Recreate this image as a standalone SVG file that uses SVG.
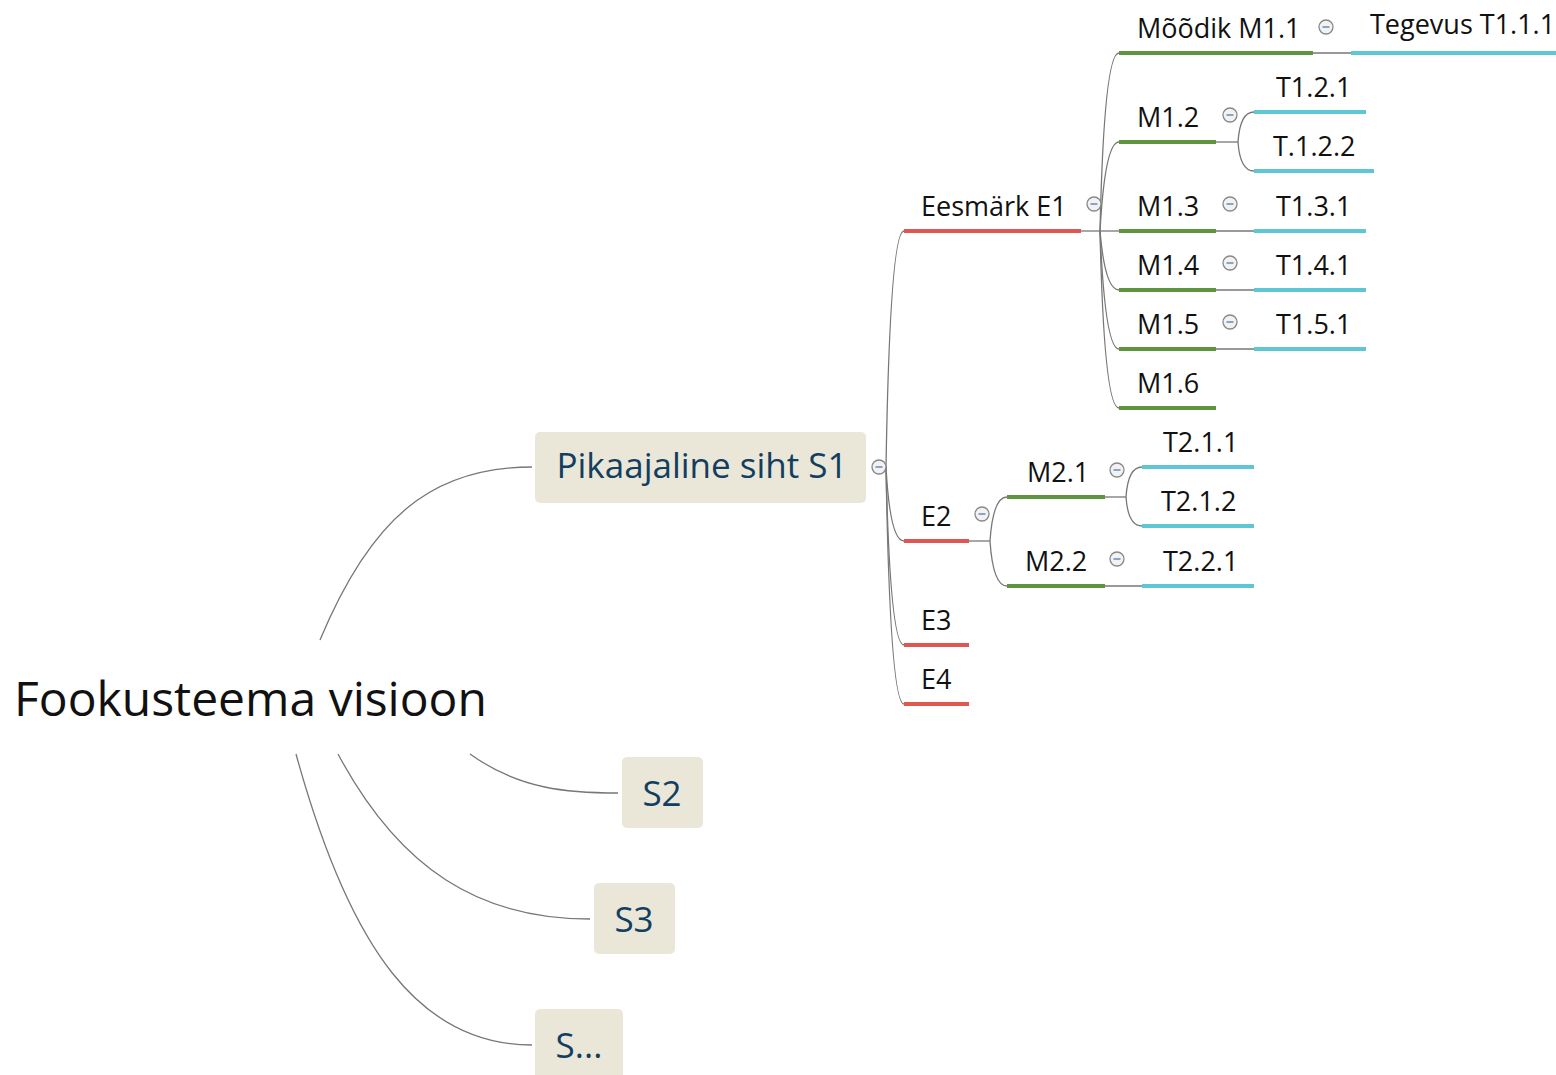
<svg xmlns="http://www.w3.org/2000/svg" width="1556" height="1075" viewBox="0 0 1556 1075">
<style>
text{font-family:"Open Sans","Noto Sans","Liberation Sans",sans-serif;fill:#111}
.root{font-size:48px}
.sbox{fill:#EAE6D8}
.st{font-size:35px;fill:#123e5f}
.lbl{font-size:27px}
.e{stroke:#E05752;stroke-width:4}
.m{stroke:#5E953E;stroke-width:4}
.t{stroke:#5DC7D6;stroke-width:4}
.c path,.c line{fill:none;stroke:#777;stroke-width:1.3}
</style>
<defs>
<g id="minus"><circle r="7" fill="#f2f2f2" stroke="#888" stroke-width="1.3"/><line x1="-3.5" y1="0" x2="3.5" y2="0" stroke="#5577aa" stroke-width="1.3"/></g>
</defs>
<g class="c" id="connectors">
<path d="M320,640 C370,520 430,467 532,467"/>
<path d="M470,754 C520,790 570,793 618,793"/>
<path d="M338,754 C400,870 480,919 590,919"/>
<path d="M296,754 C350,950 420,1045 532,1045"/>
<path d="M886,467 Q890,231 904,231"/>
<path d="M886,467 Q890,541 904,541"/>
<path d="M886,467 Q890,645 904,645"/>
<path d="M886,467 Q890,704 904,704"/>
<line x1="1081" y1="231" x2="1100" y2="231"/>
<path d="M1100,231 Q1104,53 1119,53"/>
<path d="M1100,231 Q1105,142 1119,142"/>
<line x1="1100" y1="231" x2="1119" y2="231"/>
<path d="M1100,231 Q1105,290 1119,290"/>
<path d="M1100,231 Q1105,349 1119,349"/>
<path d="M1100,231 Q1104,408 1119,408"/>
<line x1="1313" y1="53" x2="1351" y2="53"/>
<line x1="1216" y1="142" x2="1238" y2="142"/>
<path d="M1238,142 Q1240,112 1254,112"/>
<path d="M1238,142 Q1240,171 1254,171"/>
<line x1="1216" y1="231" x2="1254" y2="231"/>
<line x1="1216" y1="290" x2="1254" y2="290"/>
<line x1="1216" y1="349" x2="1254" y2="349"/>
<line x1="969" y1="541" x2="990" y2="541"/>
<path d="M990,541 Q993,497 1007,497"/>
<path d="M990,541 Q993,586 1007,586"/>
<line x1="1105" y1="497" x2="1126" y2="497"/>
<path d="M1126,497 Q1128,467 1142,467"/>
<path d="M1126,497 Q1128,526 1142,526"/>
<line x1="1105" y1="586" x2="1142" y2="586"/>
</g>
<g id="root"><text class="root" x="14" y="716">Fookusteema visioon</text></g>
<g id="s1"><rect class="sbox" x="535" y="432" width="331" height="71" rx="5"/><text class="st" x="702" y="478" text-anchor="middle">Pikaajaline siht S1</text></g>
<g id="s2"><rect class="sbox" x="622" y="757" width="81" height="71" rx="5"/><text class="st" x="662" y="806" text-anchor="middle">S2</text></g>
<g id="s3"><rect class="sbox" x="594" y="883" width="81" height="71" rx="5"/><text class="st" x="634" y="932" text-anchor="middle">S3</text></g>
<g id="s4"><rect class="sbox" x="535" y="1009" width="88" height="80" rx="5"/><text class="st" x="579" y="1058" text-anchor="middle">S...</text></g>
<g id="e1"><line class="e" x1="904" y1="231" x2="1081" y2="231"/><text class="lbl" x="921" y="216">Eesmärk E1</text></g>
<g id="e2"><line class="e" x1="904" y1="541" x2="969" y2="541"/><text class="lbl" x="921" y="526">E2</text></g>
<g id="e3"><line class="e" x1="904" y1="645" x2="969" y2="645"/><text class="lbl" x="921" y="630">E3</text></g>
<g id="e4"><line class="e" x1="904" y1="704" x2="969" y2="704"/><text class="lbl" x="921" y="689">E4</text></g>
<g id="m11"><line class="m" x1="1119" y1="53" x2="1313" y2="53"/><text class="lbl" x="1137" y="38">Mõõdik M1.1</text></g>
<g id="m12"><line class="m" x1="1119" y1="142" x2="1216" y2="142"/><text class="lbl" x="1137" y="127">M1.2</text></g>
<g id="m13"><line class="m" x1="1119" y1="231" x2="1216" y2="231"/><text class="lbl" x="1137" y="216">M1.3</text></g>
<g id="m14"><line class="m" x1="1119" y1="290" x2="1216" y2="290"/><text class="lbl" x="1137" y="275">M1.4</text></g>
<g id="m15"><line class="m" x1="1119" y1="349" x2="1216" y2="349"/><text class="lbl" x="1137" y="334">M1.5</text></g>
<g id="m16"><line class="m" x1="1119" y1="408" x2="1216" y2="408"/><text class="lbl" x="1137" y="393">M1.6</text></g>
<g id="t111"><line class="t" x1="1351" y1="53" x2="1556" y2="53"/><text class="lbl" x="1370" y="34">Tegevus T1.1.1</text></g>
<g id="t121"><line class="t" x1="1254" y1="112" x2="1366" y2="112"/><text class="lbl" x="1276" y="97">T1.2.1</text></g>
<g id="t122"><line class="t" x1="1254" y1="171" x2="1374" y2="171"/><text class="lbl" x="1273" y="156">T.1.2.2</text></g>
<g id="t131"><line class="t" x1="1254" y1="231" x2="1366" y2="231"/><text class="lbl" x="1276" y="216">T1.3.1</text></g>
<g id="t141"><line class="t" x1="1254" y1="290" x2="1366" y2="290"/><text class="lbl" x="1276" y="275">T1.4.1</text></g>
<g id="t151"><line class="t" x1="1254" y1="349" x2="1366" y2="349"/><text class="lbl" x="1276" y="334">T1.5.1</text></g>
<g id="m21"><line class="m" x1="1007" y1="497" x2="1105" y2="497"/><text class="lbl" x="1027" y="482">M2.1</text></g>
<g id="m22"><line class="m" x1="1007" y1="586" x2="1105" y2="586"/><text class="lbl" x="1025" y="571">M2.2</text></g>
<g id="t211"><line class="t" x1="1142" y1="467" x2="1254" y2="467"/><text class="lbl" x="1163" y="452">T2.1.1</text></g>
<g id="t212"><line class="t" x1="1142" y1="526" x2="1254" y2="526"/><text class="lbl" x="1161" y="511">T2.1.2</text></g>
<g id="t221"><line class="t" x1="1142" y1="586" x2="1254" y2="586"/><text class="lbl" x="1163" y="571">T2.2.1</text></g>
<g id="collapse">
<use href="#minus" x="879" y="467"/>
<use href="#minus" x="1094" y="204"/>
<use href="#minus" x="982" y="514"/>
<use href="#minus" x="1326" y="27"/>
<use href="#minus" x="1230" y="115"/>
<use href="#minus" x="1230" y="204"/>
<use href="#minus" x="1230" y="263"/>
<use href="#minus" x="1230" y="322"/>
<use href="#minus" x="1117" y="470"/>
<use href="#minus" x="1117" y="559"/>
</g>
</svg>
